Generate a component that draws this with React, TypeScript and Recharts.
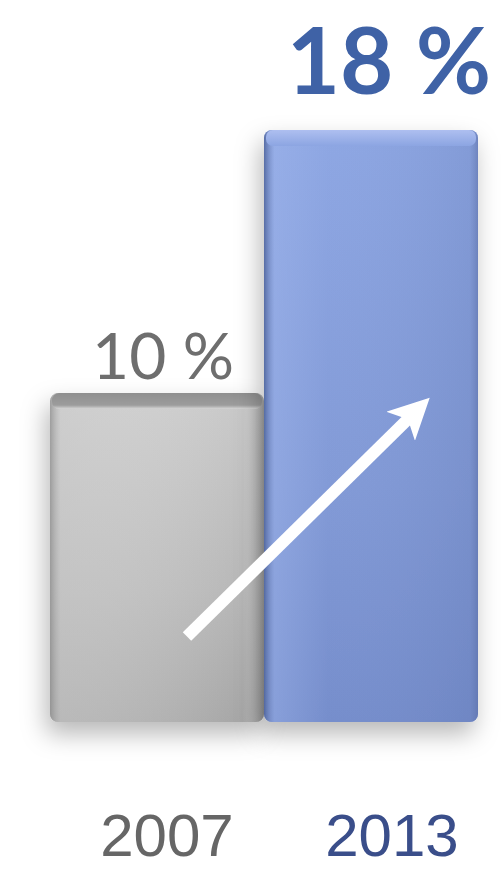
import React from "react";
import { Bar, BarChart, Cell, LabelList, ReferenceLine, XAxis, YAxis } from "recharts";

const years = ["2007", "2013"];
const shares = [10, 18];
const labels = ["10 %", "18 %"];
const labelColors = ["#6e6e6e", "#3f62a6"];
const tickColors = ["#666666", "#3a4e8a"];
const arrowFrom = { year: "2007", value: 2.6 };
const arrowTo = { year: "2013", value: 9.6 };

const data = years.map((year, i) => ({ year, share: shares[i] }));

function Bar3D(props: any) {
  const { x, y, width, height, index } = props;
  const id = index === 0 ? "gray" : "blue";
  return (
    <g filter="url(#barShadow)">
      <rect x={x} y={y} width={width} height={height} rx={8} fill={`url(#${id}Body)`} />
      <rect x={x} y={y} width={width} height={height} rx={8} fill={`url(#${id}Side)`} />
      <rect x={x + 2} y={y} width={width - 4} height={16} rx={7} fill={`url(#${id}Top)`} />
    </g>
  );
}

function ValueLabel(props: any) {
  const { x, y, width, index } = props;
  const big = index === 1;
  return (
    <text
      x={x + width / 2 + (big ? 18 : 6)}
      y={y - (big ? 36 : 14)}
      textAnchor="middle"
      fill={labelColors[index]}
      fontFamily="Lato, 'DejaVu Sans', sans-serif"
      fontWeight={big ? 700 : 400}
      fontSize={big ? 92 : 64}
    >
      {labels[index]}
    </text>
  );
}

const tickShift = [10, 21];

function YearTick(props: any) {
  const { x, y, payload, index } = props;
  return (
    <text
      x={x + tickShift[index]}
      y={y + 126}
      textAnchor="middle"
      fill={tickColors[index]}
      fontFamily="'Liberation Sans', Arial, sans-serif"
      fontSize={60}
    >
      {payload.value}
    </text>
  );
}

function Arrow(props: any) {
  const { x1, y1, x2, y2 } = props;
  return (
    <line
      x1={x1 + 30}
      y1={y1}
      x2={x2 + 50}
      y2={y2}
      stroke="#ffffff"
      strokeWidth={12}
      markerEnd="url(#arrowHead)"
    />
  );
}

export default function App() {
  return (
    <div style={{ position: "absolute", left: 0, top: 0, width: 503, height: 869, background: "#ffffff" }}>
      <BarChart
        width={503}
        height={869}
        data={data}
        margin={{ top: 130, right: 25, bottom: 0, left: 50 }}
        barCategoryGap={0}
      >
        <defs>
          <linearGradient id="grayBody" x1="0" y1="0" x2="0" y2="1">
            <stop offset="0%" stopColor="#c9c9c9" />
            <stop offset="60%" stopColor="#b7b7b7" />
            <stop offset="100%" stopColor="#a6a6a6" />
          </linearGradient>
          <linearGradient id="graySide" x1="0" y1="0" x2="1" y2="0">
            <stop offset="0%" stopColor="#8c8c8c" stopOpacity={0.7} />
            <stop offset="5%" stopColor="#d6d6d6" stopOpacity={0.4} />
            <stop offset="90%" stopColor="#ffffff" stopOpacity={0} />
            <stop offset="100%" stopColor="#7a7a7a" stopOpacity={0.5} />
          </linearGradient>
          <linearGradient id="grayTop" x1="0" y1="0" x2="0" y2="1">
            <stop offset="0%" stopColor="#8f8f8f" />
            <stop offset="75%" stopColor="#9c9c9c" />
            <stop offset="100%" stopColor="#d8d8d8" />
          </linearGradient>
          <linearGradient id="blueBody" x1="0" y1="0" x2="0" y2="1">
            <stop offset="0%" stopColor="#8ca5e2" />
            <stop offset="60%" stopColor="#7f97d4" />
            <stop offset="100%" stopColor="#7189c8" />
          </linearGradient>
          <linearGradient id="blueSide" x1="0" y1="0" x2="1" y2="0">
            <stop offset="0%" stopColor="#4a5f96" stopOpacity={0.8} />
            <stop offset="5%" stopColor="#a3b9ee" stopOpacity={0.45} />
            <stop offset="30%" stopColor="#a3b9ee" stopOpacity={0.1} />
            <stop offset="96%" stopColor="#6a80b8" stopOpacity={0.25} />
            <stop offset="100%" stopColor="#5a6ea6" stopOpacity={0.6} />
          </linearGradient>
          <linearGradient id="blueTop" x1="0" y1="0" x2="0" y2="1">
            <stop offset="0%" stopColor="#aebff0" />
            <stop offset="100%" stopColor="#8ca5e2" />
          </linearGradient>
          <filter id="barShadow" x="-20%" y="-10%" width="140%" height="130%">
            <feDropShadow dx={-4} dy={12} stdDeviation={12} floodColor="#000000" floodOpacity={0.28} />
          </filter>
          <marker id="arrowHead" viewBox="0 0 10 10" refX={7} refY={5} markerWidth={3.4} markerHeight={3.4} orient="auto">
            <path d="M0,0 L10,5 L0,10 L2.5,5 Z" fill="#ffffff" />
          </marker>
        </defs>
        <XAxis
          dataKey="year"
          axisLine={false}
          tickLine={false}
          height={147}
          interval={0}
          tick={<YearTick />}
        />
        <YAxis hide domain={[0, 18]} />
        <Bar dataKey="share" shape={<Bar3D />} isAnimationActive={false}>
          {data.map((d, i) => (
            <Cell key={d.year} fill={i === 0 ? "#b7b7b7" : "#8099d8"} />
          ))}
          <LabelList dataKey="share" content={<ValueLabel />} />
        </Bar>
        <ReferenceLine
          segment={[
            { x: arrowFrom.year, y: arrowFrom.value },
            { x: arrowTo.year, y: arrowTo.value },
          ]}
          shape={<Arrow />}
          ifOverflow="visible"
        />
      </BarChart>
    </div>
  );
}
